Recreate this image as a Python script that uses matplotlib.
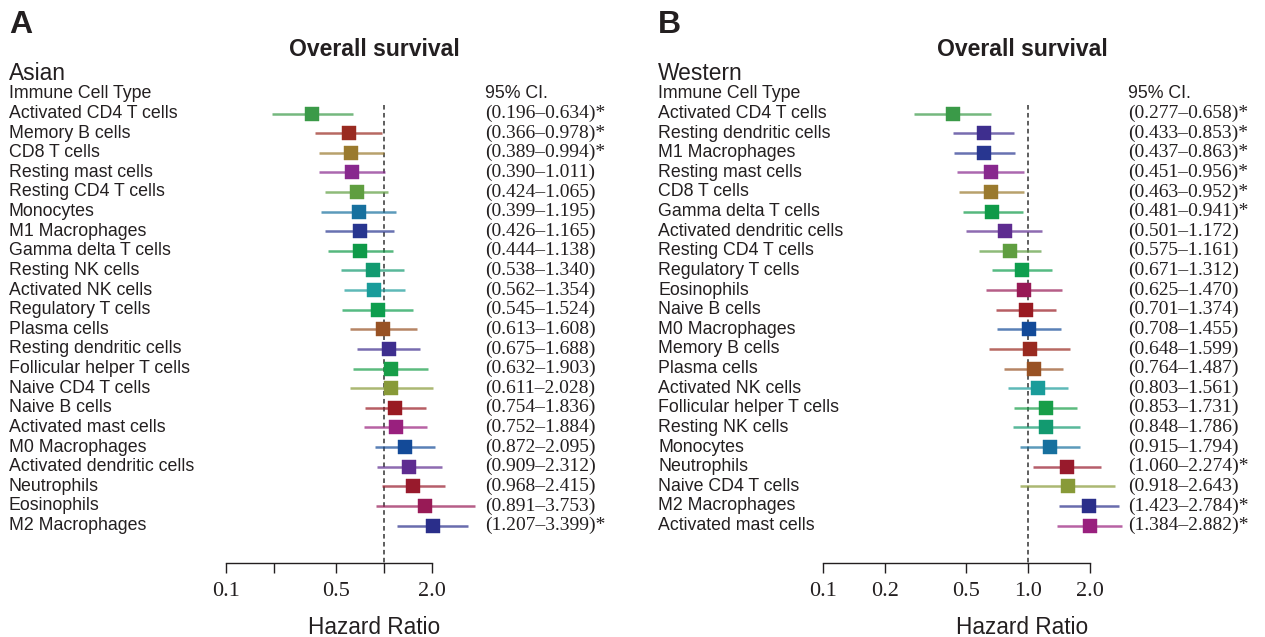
import matplotlib
matplotlib.use('Agg')
import matplotlib.pyplot as plt
from matplotlib.transforms import blended_transform_factory

# ---- data ----
asian_cells = ['Activated CD4 T cells', 'Memory B cells', 'CD8 T cells', 'Resting mast cells',
               'Resting CD4 T cells', 'Monocytes', 'M1 Macrophages', 'Gamma delta T cells',
               'Resting NK cells', 'Activated NK cells', 'Regulatory T cells', 'Plasma cells',
               'Resting dendritic cells', 'Follicular helper T cells', 'Naive CD4 T cells',
               'Naive B cells', 'Activated mast cells', 'M0 Macrophages',
               'Activated dendritic cells', 'Neutrophils', 'Eosinophils', 'M2 Macrophages']
asian_hr = [0.35, 0.60, 0.62, 0.63, 0.67, 0.69, 0.70, 0.71, 0.85, 0.87, 0.91,
            0.99, 1.07, 1.10, 1.11, 1.18, 1.19, 1.35, 1.45, 1.53, 1.83, 2.03]
asian_lo = [0.196, 0.366, 0.389, 0.390, 0.424, 0.399, 0.426, 0.444, 0.538, 0.562, 0.545,
            0.613, 0.675, 0.632, 0.611, 0.754, 0.752, 0.872, 0.909, 0.968, 0.891, 1.207]
asian_hi = [0.634, 0.978, 0.994, 1.011, 1.065, 1.195, 1.165, 1.138, 1.340, 1.354, 1.524,
            1.608, 1.688, 1.903, 2.028, 1.836, 1.884, 2.095, 2.312, 2.415, 3.753, 3.399]
asian_sig = [True, True, True, False, False, False, False, False, False, False, False,
             False, False, False, False, False, False, False, False, False, False, True]

western_cells = ['Activated CD4 T cells', 'Resting dendritic cells', 'M1 Macrophages',
                 'Resting mast cells', 'CD8 T cells', 'Gamma delta T cells',
                 'Activated dendritic cells', 'Resting CD4 T cells', 'Regulatory T cells',
                 'Eosinophils', 'Naive B cells', 'M0 Macrophages', 'Memory B cells',
                 'Plasma cells', 'Activated NK cells', 'Follicular helper T cells',
                 'Resting NK cells', 'Monocytes', 'Neutrophils', 'Naive CD4 T cells',
                 'M2 Macrophages', 'Activated mast cells']
western_hr = [0.43, 0.61, 0.61, 0.66, 0.66, 0.67, 0.77, 0.82, 0.94, 0.96, 0.98,
              1.01, 1.02, 1.07, 1.12, 1.22, 1.23, 1.28, 1.55, 1.56, 1.99, 2.00]
western_lo = [0.277, 0.433, 0.437, 0.451, 0.463, 0.481, 0.501, 0.575, 0.671, 0.625, 0.701,
              0.708, 0.648, 0.764, 0.803, 0.853, 0.848, 0.915, 1.060, 0.918, 1.423, 1.384]
western_hi = [0.658, 0.853, 0.863, 0.956, 0.952, 0.941, 1.172, 1.161, 1.312, 1.470, 1.374,
              1.455, 1.599, 1.487, 1.561, 1.731, 1.786, 1.794, 2.274, 2.643, 2.784, 2.882]
western_sig = [True, True, True, True, True, True, False, False, False, False, False,
               False, False, False, False, False, False, False, True, False, True, True]

tick_vals = [0.1, 0.2, 0.5, 1.0, 2.0]

cell_colors = {
    'Activated CD4 T cells': '#3a9a48', 'Memory B cells': '#992a20',
    'CD8 T cells': '#9a7a2e', 'Resting mast cells': '#88288e',
    'Resting CD4 T cells': '#5f9e40', 'Monocytes': '#17709e',
    'M1 Macrophages': '#283690', 'Gamma delta T cells': '#0f9a48',
    'Resting NK cells': '#129a70', 'Activated NK cells': '#1a9c9a',
    'Regulatory T cells': '#0e9e4e', 'Plasma cells': '#985224',
    'Resting dendritic cells': '#3e2e8e', 'Follicular helper T cells': '#179e48',
    'Naive CD4 T cells': '#889a38', 'Naive B cells': '#991a22',
    'Activated mast cells': '#99207e', 'M0 Macrophages': '#134a98',
    'Activated dendritic cells': '#5e2c90', 'Neutrophils': '#981a2c',
    'Eosinophils': '#981a56', 'M2 Macrophages': '#2a2e8a',
}

W, H = 1265, 637
TXT = '#231f20'
SANS = 'Liberation Sans'
SERIF = 'Liberation Serif'
ROW0, ROWH = 113.5, 19.62
AX_TOP, AX_BOT = 95, 563

fig = plt.figure(figsize=(W / 100, H / 100), dpi=100)


def forest(letter, group, cells, hr, lo, hi, sig, x01, decade, label_x, ci_x, center_x, shown):
    left_px = x01 - 30
    ax = fig.add_axes([left_px / W, 1 - AX_BOT / H, (30 + 1.6 * decade) / W, (AX_BOT - AX_TOP) / H])
    ax.set_xscale('log')
    ax.set_xlim(0.1 * 10 ** (-30 / decade), 0.1 * 10 ** 1.6)
    ax.set_ylim(-(AX_BOT - ROW0) / ROWH, (ROW0 - AX_TOP) / ROWH)
    ax.patch.set_alpha(0)

    for i, name in enumerate(cells):
        c = cell_colors[name]
        ax.plot([lo[i], hi[i]], [-i, -i], color=c, lw=1.8, alpha=0.7,
                solid_capstyle='butt', clip_on=False, zorder=2)
        ax.plot(hr[i], -i, marker='s', ms=9.6, color=c, mec=c, mew=0.3,
                clip_on=False, zorder=3)

    ax.plot([1, 1], [(ROW0 - 105) / ROWH, -(AX_BOT - ROW0) / ROWH], color='#333333',
            lw=1.1, ls=(0, (3, 2.2)), zorder=1, clip_on=False)

    for s in ['top', 'right', 'left']:
        ax.spines[s].set_visible(False)
    ax.spines['bottom'].set_bounds(0.1, 2.0)
    ax.spines['bottom'].set_color(TXT)
    ax.spines['bottom'].set_linewidth(1.0)
    ax.set_yticks([])
    ax.set_xticks(tick_vals)
    ax.set_xticks([], minor=True)
    ax.set_xticklabels(shown, fontfamily=SERIF, fontsize=16, color=TXT)
    ax.tick_params(axis='x', direction='out', length=7.5, width=1.0, color=TXT, pad=6.5)

    tr = blended_transform_factory(fig.transFigure, ax.transData)
    ax.text(label_x / W, 1, 'Immune Cell Type', transform=tr, va='center', ha='left',
            fontsize=12.8, family=SANS, color=TXT)
    ax.text(ci_x / W, 1, '95% CI.', transform=tr, va='center', ha='left',
            fontsize=12.8, family=SANS, color=TXT)
    for i, name in enumerate(cells):
        ax.text(label_x / W, -i, name, transform=tr, va='center', ha='left',
                fontsize=12.8, family=SANS, color=TXT)
        ci = f'({lo[i]:.3f}\u2013{hi[i]:.3f})' + ('*' if sig[i] else '')
        ax.text(ci_x / W, -i, ci, transform=tr, va='center', ha='left',
                fontsize=14, family=SERIF, color=TXT)

    fig.text(label_x / W, 1 - 25 / H, letter, fontsize=23, fontweight='bold',
             family=SANS, color=TXT, va='center', ha='left')
    fig.text(center_x / W, 1 - 49 / H, 'Overall survival', fontsize=16.6, fontweight='bold',
             family=SANS, color=TXT, va='center', ha='center')
    fig.text(label_x / W, 1 - 73 / H, group, fontsize=16.4, family=SANS, color=TXT,
             va='center', ha='left')
    fig.text(center_x / W, 1 - 627 / H, 'Hazard Ratio', fontsize=16.3, family=SANS,
             color=TXT, va='center', ha='center')


forest('A', 'Asian', asian_cells, asian_hr, asian_lo, asian_hi, asian_sig,
       x01=226, decade=158, label_x=9, ci_x=485, center_x=374,
       shown=['0.1', '', '0.5', '', '2.0'])
forest('B', 'Western', western_cells, western_hr, western_lo, western_hi, western_sig,
       x01=823, decade=205, label_x=658, ci_x=1128, center_x=1022,
       shown=['0.1', '0.2', '0.5', '1.0', '2.0'])

fig.savefig('out.png', dpi=100)
